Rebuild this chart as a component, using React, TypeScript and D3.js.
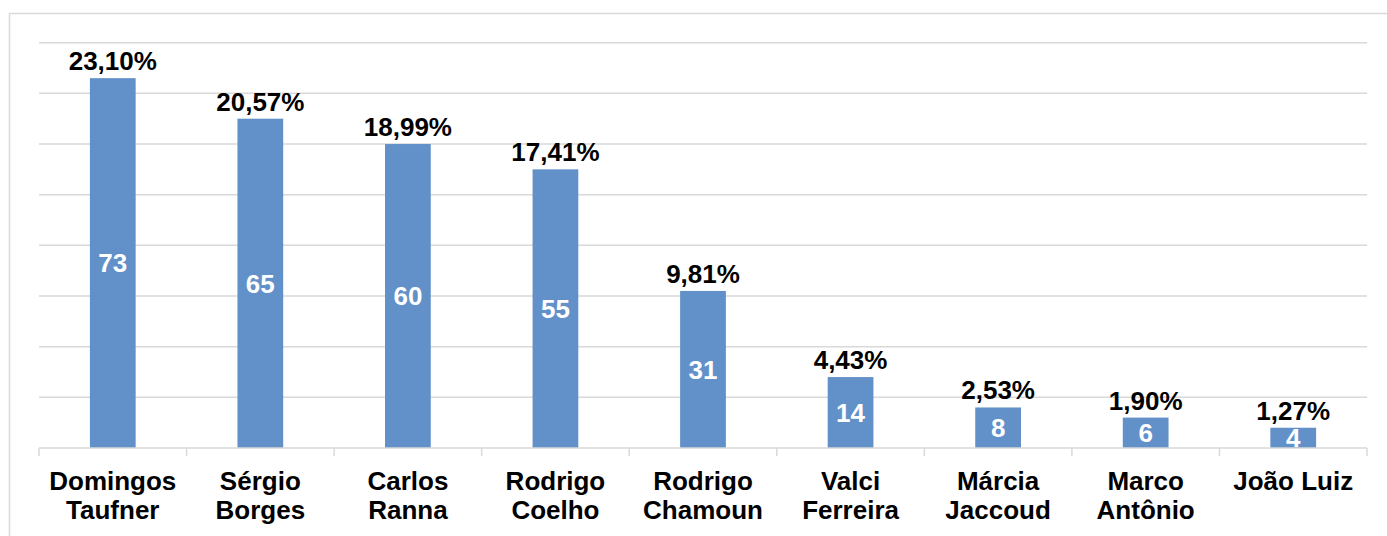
import React from 'react';
import * as d3 from 'd3';

const names = [
  ['Domingos', 'Taufner'],
  ['Sérgio', 'Borges'],
  ['Carlos', 'Ranna'],
  ['Rodrigo', 'Coelho'],
  ['Rodrigo', 'Chamoun'],
  ['Valci', 'Ferreira'],
  ['Márcia', 'Jaccoud'],
  ['Marco', 'Antônio'],
  ['João Luiz'],
];
const votes = [73, 65, 60, 55, 31, 14, 8, 6, 4];
const shares = ['23,10%', '20,57%', '18,99%', '17,41%', '9,81%', '4,43%', '2,53%', '1,90%', '1,27%'];
const yTicks = [0, 10, 20, 30, 40, 50, 60, 70, 80];

const W = 1387;
const H = 536;
const plot = { left: 39, right: 1367, top: 42.7, bottom: 448 };
const FONT = 'Liberation Sans, Arial, sans-serif';
const BAR = '#6290C8';
const GRID = '#D9D9D9';

export default function App() {
  const idx = names.map((_, i) => String(i));
  const x = d3.scaleBand().domain(idx).range([plot.left, plot.right]).paddingInner(0.69).paddingOuter(0.345);
  const y = d3.scaleLinear().domain([0, 80]).range([plot.bottom, plot.top]);
  const step = x.step();
  // boundaries between categories for the tick marks
  const bounds = d3.range(names.length + 1).map(i => plot.left + i * step);

  return (
    <div style={{ position: 'absolute', left: 0, top: 0 }}>
      <svg width={W} height={H} style={{ display: 'block', fontFamily: FONT }}>
        <rect x={0} y={0} width={W} height={H} fill="#fff" />
        <rect x={9.5} y={13.5} width={1400} height={560} fill="none" stroke={GRID} strokeWidth={1.5} />

        {yTicks.slice(1).map(t => (
          <line key={t} x1={plot.left} x2={plot.right} y1={y(t)} y2={y(t)} stroke={GRID} strokeWidth={1.5} />
        ))}

        {votes.map((v, i) => {
          const bx = x(String(i))!;
          const bw = x.bandwidth();
          const top = y(v);
          const cx = bx + bw / 2;
          return (
            <g key={i}>
              <rect x={bx} y={top} width={bw} height={y(0) - top} fill={BAR} />
              <text x={cx} y={(top + y(0)) / 2} dy="0.36em" textAnchor="middle" fill="#fff"
                fontWeight="bold" fontSize={26}>{v}</text>
              <text x={cx} y={top - 8} textAnchor="middle" fill="#000"
                fontWeight="bold" fontSize={26}>{shares[i]}</text>
            </g>
          );
        })}

        <line x1={plot.left} x2={plot.right} y1={y(0)} y2={y(0)} stroke={GRID} strokeWidth={1.5} />
        {bounds.map((bx, i) => (
          <line key={i} x1={bx} x2={bx} y1={y(0)} y2={y(0) + 8} stroke={GRID} strokeWidth={1.5} />
        ))}

        {names.map((lines, i) => {
          const cx = x(String(i))! + x.bandwidth() / 2;
          return (
            <text key={i} x={cx} y={490} textAnchor="middle" fill="#000" fontWeight="bold" fontSize={26}>
              {lines.map((l, j) => (
                <tspan key={j} x={cx} dy={j === 0 ? 0 : 28.5}>{l}</tspan>
              ))}
            </text>
          );
        })}
      </svg>
    </div>
  );
}
